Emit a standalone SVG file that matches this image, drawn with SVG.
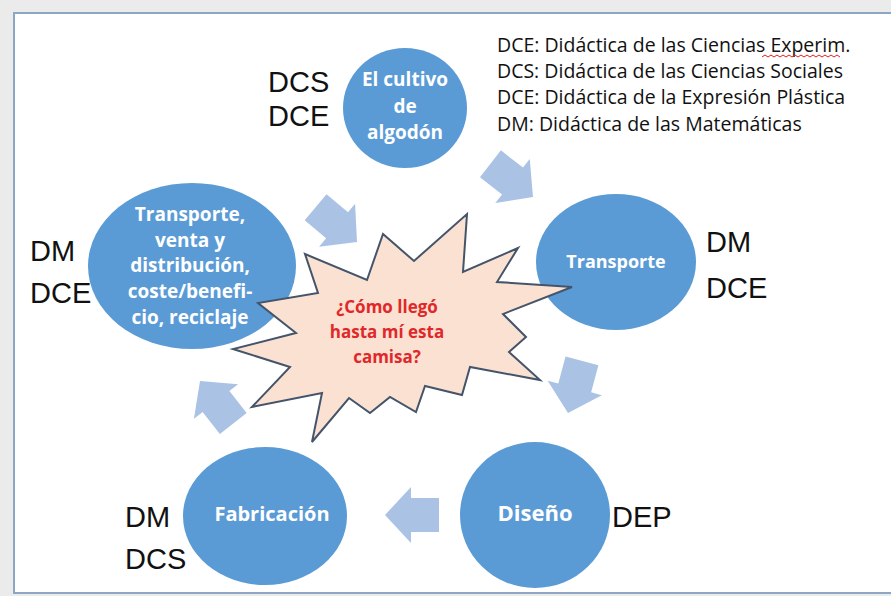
<svg xmlns="http://www.w3.org/2000/svg" width="891" height="596" viewBox="0 0 891 596">
<defs>
<style>
.node{fill:#5b9bd5}
.nt{font-family:"Open Sans","Liberation Sans",sans-serif;font-weight:bold;font-size:19px;fill:#ffffff;text-anchor:middle}
.lbl{font-family:"Liberation Sans",Arial,sans-serif;font-size:29px;fill:#111111}
.leg{font-family:"Open Sans","Liberation Sans",sans-serif;font-size:19.5px;fill:#111111}
.arr{fill:#aac2e4}
.st{fill:#fbe1d2;stroke:#44546a;stroke-width:2;stroke-linejoin:miter}
.qt{font-family:"Open Sans","Liberation Sans",sans-serif;font-weight:bold;font-size:17px;fill:#e0282a;text-anchor:middle}
</style>
<polygon id="ba" points="-54,-17 -26,-17 -26,-28 0,0 -26,28 -26,17 -54,17"/>
</defs>
<rect x="0" y="0" width="891" height="596" fill="#ebebeb"/>
<rect x="14" y="13" width="890" height="580" fill="#ffffff" stroke="#8ca6c4" stroke-width="2"/>

<g id="legend">
<text class="leg" x="497" y="52">DCE: Didáctica de las Ciencias Experim.</text>
<path d="M762,57 l3,-2 l3,2 l3,-2 l3,2 l3,-2 l3,2 l3,-2 l3,2 l3,-2 l3,2 l3,-2 l3,2 l3,-2 l3,2 l3,-2 l3,2 l3,-2 l3,2 l3,-2 l3,2 l3,-2 l3,2 l3,-2 l3,2 l3,-2 l3,2" fill="none" stroke="#e02020" stroke-width="1"/>
<text class="leg" x="497" y="78">DCS: Didáctica de las Ciencias Sociales</text>
<text class="leg" x="497" y="104">DCE: Didáctica de la Expresión Plástica</text>
<text class="leg" x="497" y="131">DM: Didáctica de las Matemáticas</text>
</g>

<g id="connectors">
<use href="#ba" class="arr" transform="translate(533,197) rotate(38)"/>
<use href="#ba" class="arr" transform="translate(568,413) rotate(105)"/>
<use href="#ba" class="arr" transform="translate(385,515) rotate(180)"/>
<use href="#ba" class="arr" transform="translate(200,381) rotate(232)"/>
<use href="#ba" class="arr" transform="translate(357,242) rotate(40)"/>
</g>

<g id="cultivo">
<ellipse class="node" cx="405" cy="108" rx="62" ry="60"/>
<text class="nt" x="405" y="86">El cultivo</text>
<text class="nt" x="405" y="113">de</text>
<text class="nt" x="405" y="139">algodón</text>
<text class="lbl" x="268" y="92">DCS</text>
<text class="lbl" x="268" y="126">DCE</text>
</g>

<g id="transporte">
<ellipse class="node" cx="616" cy="262" rx="80" ry="68"/>
<text class="nt" x="616" y="268" style="font-size:18px">Transporte</text>
<text class="lbl" x="706" y="252">DM</text>
<text class="lbl" x="706" y="298">DCE</text>
</g>

<g id="diseno">
<ellipse class="node" cx="535" cy="515" rx="75" ry="73"/>
<text class="nt" x="535" y="521" style="font-size:22px">Diseño</text>
<text class="lbl" x="612" y="527">DEP</text>
</g>

<g id="fabricacion">
<ellipse class="node" cx="265" cy="516" rx="82" ry="69"/>
<text class="nt" x="272" y="521" style="font-size:20px">Fabricación</text>
<text class="lbl" x="125" y="527">DM</text>
<text class="lbl" x="125" y="569">DCS</text>
</g>

<g id="distribucion">
<ellipse class="node" cx="192" cy="266" rx="104" ry="83"/>
<text class="nt" x="190" y="221">Transporte,</text>
<text class="nt" x="190" y="247">venta y</text>
<text class="nt" x="190" y="272">distribución,</text>
<text class="nt" x="190" y="298">coste/benefi-</text>
<text class="nt" x="190" y="324">cio, reciclaje</text>
<text class="lbl" x="30" y="261">DM</text>
<text class="lbl" x="30" y="303">DCE</text>
</g>

<g id="centro">
<polygon class="st" points="305,254 367,280 383,234 414,261 467,214 463,272 518,248 497,282 572,287 503,314 526,337 509,352 540,380 470,367 462,395 425,386 416,412 390,397 370,413 349,398 312,442 322,393 252,407 290,367 233,349 296,333 258,303 318,293"/>
<text class="qt" x="387" y="313">¿Cómo llegó</text>
<text class="qt" x="387" y="338">hasta mí esta</text>
<text class="qt" x="387" y="363">camisa?</text>
</g>
</svg>
